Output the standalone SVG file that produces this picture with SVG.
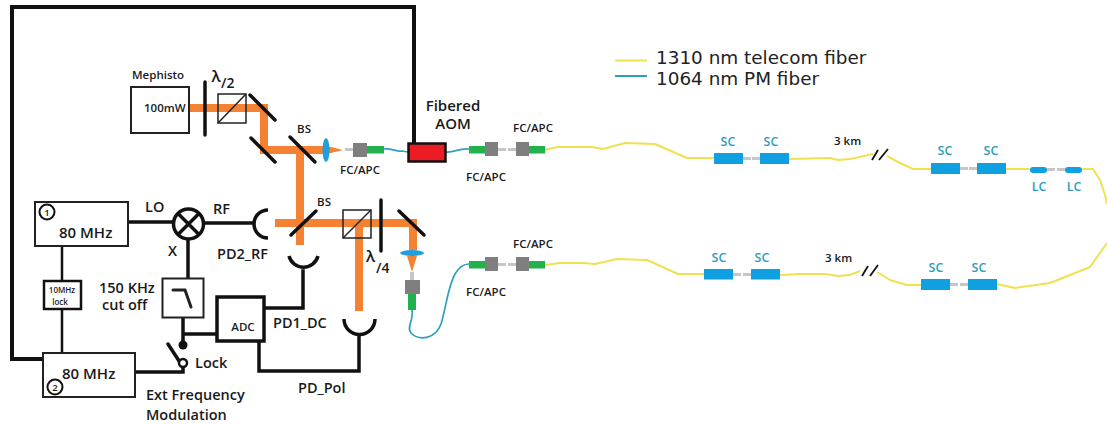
<svg xmlns="http://www.w3.org/2000/svg" width="1107" height="425" viewBox="0 0 1107 425">
<style>
text{font-family:"Open Sans","Liberation Sans",sans-serif;font-weight:600;fill:#1a1a1a}
.s11{font-size:11.5px}.s14{font-size:14.5px}.s15{font-size:15px}
.c{text-anchor:middle}
.blue{fill:#2f9cbc;font-size:12.5px;text-anchor:middle}
.leg{font-family:"DejaVu Sans",sans-serif;font-weight:400;font-size:18.4px;fill:#222}
.box{fill:#fff;stroke:#222;stroke-width:2}
.w{fill:none;stroke:#111;stroke-linecap:square;stroke-linejoin:miter}
.w2{stroke-width:2.5}.w3{stroke-width:3.5}.w4{stroke-width:4}
.m{fill:none;stroke:#111;stroke-width:3.5;stroke-linecap:round}
.beam{fill:none;stroke:#f58232;stroke-width:8;stroke-linejoin:miter}
.y{fill:none;stroke:#f0e150;stroke-width:2;stroke-linejoin:round}
.t{fill:none;stroke:#2f9fbd;stroke-width:1.7;stroke-linejoin:round}
.g{fill:#7f7f7f}.gr{fill:#22b14c}.st{fill:#c6c6c6}.sc{fill:#0ea0e0}
.lens{fill:#1f9fdc}.cone{fill:#f58232}
.arc{fill:none;stroke:#111;stroke-width:3.5}
</style>
<g id="connectors">
<path class="w w4" d="M414 143V7H12V359H43"/>
<path class="w w3" d="M128 222H172M205 223H252M188 241V278M183 318V345M183 334H217M135 372H183V363"/>
<path class="w w2" d="M62 246V281M62 309V353"/>
<path class="w w3" d="M264 308H303V271M259 341V371H359V335"/>
<path class="m" d="M168 344L183 367"/>
<path class="t" d="M384 149C392 148 396 152 402 151L408 152M446 152C454 153 458 148 469 149"/>
<path class="t" d="M412 310C414 320 406 328 411 333C420 342 436 338 441 324C446 308 448 286 455 274C459 267 463 264 469 264"/>
<path class="y" d="M545 150L557 147L592 147L603 149L625 143L655 144L687 158H714M789 159L830 158L838 160L850 159L873 154M887 156L900 163L913 169H931M1006 169H1030M1082 169H1093L1100 180L1105 195L1107 204"/>
<path class="y" d="M545 265L560 263L583 263L595 264L617 259L647 260L678 274H704M780 275L800 274L825 274L838 276L850 275L860 271M877 272L890 280L907 285H921M997 284L1015 288L1050 283L1090 267L1107 243"/>
</g>
<g id="beams">
<path class="beam" d="M190 108H264V150H323"/>
<path class="beam" d="M300 150V245"/>
<path class="beam" d="M275 223H413V250"/>
<path class="beam" d="M359 223V311"/>
<path class="cone" d="M323 145L343 150L323 155Z"/>
<path class="cone" d="M407 256H417L412 272Z"/>
</g>
<g id="legend">
<path d="M615 60.500H647" fill="none" stroke="#f0e150" stroke-width="2"/>
<path d="M615 76H647" fill="none" stroke="#2f9fbd" stroke-width="2"/>
<text class="leg" x="656" y="64">1310 nm telecom fiber</text>
<text class="leg" x="656" y="85">1064 nm PM fiber</text>
</g>
<g id="laser">
<rect class="box" x="131" y="87" width="58" height="46"/>
<text class="s11" x="132" y="79">Mephisto</text>
<text class="s11" x="144" y="112">100mW</text>
</g>
<g id="waveplate-half">
<path class="m" d="M205 82V135"/>
<text x="211.500" y="82" style="font-size:16px">λ</text>
<text x="221" y="88" style="font-size:14px">/2</text>
</g>
<g id="cube-1"><rect x="218" y="94" width="28" height="29" fill="none" stroke="#222" stroke-width="1.500"/><path d="M218 123L246 94" stroke="#222" stroke-width="1.500"/></g>
<g id="mirror-1"><path class="m" d="M250 95L275 120"/></g>
<g id="mirror-2"><path class="m" d="M251 138L275 162"/></g>
<g id="bs-1"><path class="m" d="M290 137L315 162"/><text class="s11 c" x="304" y="133">BS</text></g>
<g id="lens-1"><ellipse class="lens" cx="326" cy="150" rx="3.500" ry="12"/></g>
<g id="fc-1">
<rect class="st" x="345" y="148" width="9" height="3"/><rect class="g" x="353" y="143" width="14" height="14"/><rect class="gr" x="367" y="146" width="17" height="7.500"/>
<text class="s11 c" x="360" y="174">FC/APC</text>
</g>
<g id="aom">
<rect x="408.500" y="143.500" width="37" height="18" fill="#ed1c24" stroke="#111" stroke-width="2.500"/>
<text class="s15 c" x="453" y="111">Fibered</text>
<text class="s15 c" x="453" y="129">AOM</text>
</g>
<g id="fc-2">
<rect class="gr" x="469" y="146" width="16" height="7.500"/><rect class="g" x="485" y="142" width="13" height="14"/><rect class="st" x="498" y="148" width="8" height="3"/>
<rect class="st" x="508" y="148" width="8" height="3"/><rect class="g" x="516" y="142" width="13" height="14"/><rect class="gr" x="529" y="146" width="16" height="7.500"/>
<text class="s11 c" x="486" y="181">FC/APC</text>
<text class="s11 c" x="533" y="132">FC/APC</text>
</g>
<g id="fc-3">
<rect class="gr" x="469" y="261" width="16" height="7.500"/><rect class="g" x="485" y="257" width="13" height="14"/><rect class="st" x="498" y="263" width="8" height="3"/>
<rect class="st" x="508" y="263" width="8" height="3"/><rect class="g" x="516" y="257" width="13" height="14"/><rect class="gr" x="529" y="261" width="16" height="7.500"/>
<text class="s11 c" x="486" y="296">FC/APC</text>
<text class="s11 c" x="533" y="248">FC/APC</text>
</g>
<g id="fc-4">
<rect class="st" x="410" y="272" width="4" height="8"/><rect class="g" x="405" y="280" width="15" height="14"/><rect class="gr" x="408" y="294" width="8" height="16"/>
</g>
<g id="bs-2"><path class="m" d="M291 235L316 211"/><text class="s11 c" x="324" y="206">BS</text></g>
<g id="cube-2"><rect x="343" y="210" width="28" height="28" fill="none" stroke="#222" stroke-width="1.500"/><path d="M343 238L371 210" stroke="#222" stroke-width="1.500"/></g>
<g id="waveplate-quarter">
<path class="m" d="M381 200V251"/>
<text x="366" y="262" style="font-size:16px">λ</text>
<text x="376" y="273" style="font-size:14px">/4</text>
</g>
<g id="mirror-3"><path class="m" d="M399 211L424 235"/></g>
<g id="lens-2"><ellipse class="lens" cx="412" cy="253" rx="12" ry="3"/></g>
<g id="pd2"><path class="arc" d="M268 210A14 14 0 0 0 268 238"/><text class="s14" x="217" y="259">PD2_RF</text></g>
<g id="pd1"><path class="arc" d="M289 256A15 15 0 0 0 318 256"/><text class="s14" x="273" y="328">PD1_DC</text></g>
<g id="pdpol"><path class="arc" d="M344 319A15 15 0 0 0 375 319"/><text class="s14" x="298" y="393">PD_Pol</text></g>
<g id="source-1">
<rect class="box" x="35" y="202" width="93" height="44"/>
<circle cx="47" cy="212" r="7.500" fill="none" stroke="#111" stroke-width="2"/>
<text class="c" x="47" y="215.500" style="font-size:9.500px">1</text>
<text class="s15" x="59" y="238">80 MHz</text>
</g>
<g id="mixer">
<circle cx="188.500" cy="224" r="15" fill="#fff" stroke="#111" stroke-width="3.500"/>
<path d="M178 213.500L199 234.500M199 213.500L178 234.500" stroke="#111" stroke-width="3.500"/>
<text class="s14" x="145" y="212">LO</text><text class="s14" x="213" y="214">RF</text><text class="s14" x="168" y="256">X</text>
</g>
<g id="lock10">
<rect x="44" y="281" width="37" height="28" fill="#fff" stroke="#111" stroke-width="2.500"/>
<text class="c" x="62" y="293" style="font-size:8px">10MHz</text>
<text class="c" x="60" y="305" style="font-size:8px">lock</text>
</g>
<g id="filter">
<rect class="box" x="162.500" y="278.500" width="41" height="39" stroke-width="1.500"/>
<path d="M173 290H185L191 307" fill="none" stroke="#222" stroke-width="3" stroke-linecap="round"/>
<text class="s14" x="99" y="293">150 KHz</text>
<text class="s14" x="102" y="310">cut off</text>
</g>
<g id="adc">
<rect x="217" y="297" width="47" height="44" fill="#fff" stroke="#111" stroke-width="3.500"/>
<text class="s11 c" x="243" y="331">ADC</text>
</g>
<g id="switch">
<circle cx="183" cy="345" r="4.500" fill="#111"/>
<circle cx="183" cy="363" r="4" fill="#fff" stroke="#111" stroke-width="2.500"/>
<text class="s14" x="195" y="368">Lock</text>
</g>
<g id="source-2">
<rect class="box" x="43" y="353" width="92" height="44"/>
<circle cx="55" cy="387" r="7.500" fill="none" stroke="#111" stroke-width="2"/>
<text class="c" x="55" y="390.500" style="font-size:9.500px">2</text>
<text class="s15" x="62" y="379">80 MHz</text>
<text class="s14" x="146" y="400">Ext Frequency</text>
<text class="s14" x="146" y="420">Modulation</text>
</g>
<g id="sc-top-1">
<rect class="sc" x="714" y="153" width="29" height="11"/><rect class="st" x="743" y="157" width="8" height="3"/><rect class="st" x="752" y="157" width="8" height="3"/><rect class="sc" x="760" y="153" width="29" height="11"/>
<text class="blue" x="728" y="146">SC</text><text class="blue" x="771" y="146">SC</text>
<text class="s11" x="834" y="145">3 km</text>
</g>
<g id="breaks" fill="none" stroke="#111" stroke-width="1.800">
<path d="M872 160L878 150M879 160L888 149M862 276L868 266M870 276L878 265"/>
</g>
<g id="sc-top-2">
<rect class="sc" x="931" y="163" width="29" height="11"/><rect class="st" x="960" y="167" width="8" height="3"/><rect class="st" x="969" y="167" width="8" height="3"/><rect class="sc" x="977" y="163" width="29" height="11"/>
<text class="blue" x="945" y="155">SC</text><text class="blue" x="991" y="155">SC</text>
</g>
<g id="lc">
<rect class="sc" x="1030" y="167" width="17" height="6" rx="3"/><rect class="st" x="1047" y="168" width="8" height="3"/><rect class="st" x="1057" y="168" width="8" height="3"/><rect class="sc" x="1065" y="167" width="17" height="6" rx="3"/>
<text class="blue" x="1039" y="191">LC</text><text class="blue" x="1074" y="191">LC</text>
</g>
<g id="sc-bottom-1">
<rect class="sc" x="704" y="269" width="29" height="10.500"/><rect class="st" x="733" y="273" width="8" height="3"/><rect class="st" x="743" y="273" width="8" height="3"/><rect class="sc" x="751" y="269" width="29" height="10.500"/>
<text class="blue" x="719" y="262">SC</text><text class="blue" x="762" y="262">SC</text>
<text class="s11" x="825" y="262">3 km</text>
</g>
<g id="sc-bottom-2">
<rect class="sc" x="921" y="279" width="29" height="11"/><rect class="st" x="950" y="283" width="8" height="3"/><rect class="st" x="960" y="283" width="8" height="3"/><rect class="sc" x="968" y="279" width="29" height="11"/>
<text class="blue" x="936" y="272">SC</text><text class="blue" x="979" y="272">SC</text>
</g>
</svg>
